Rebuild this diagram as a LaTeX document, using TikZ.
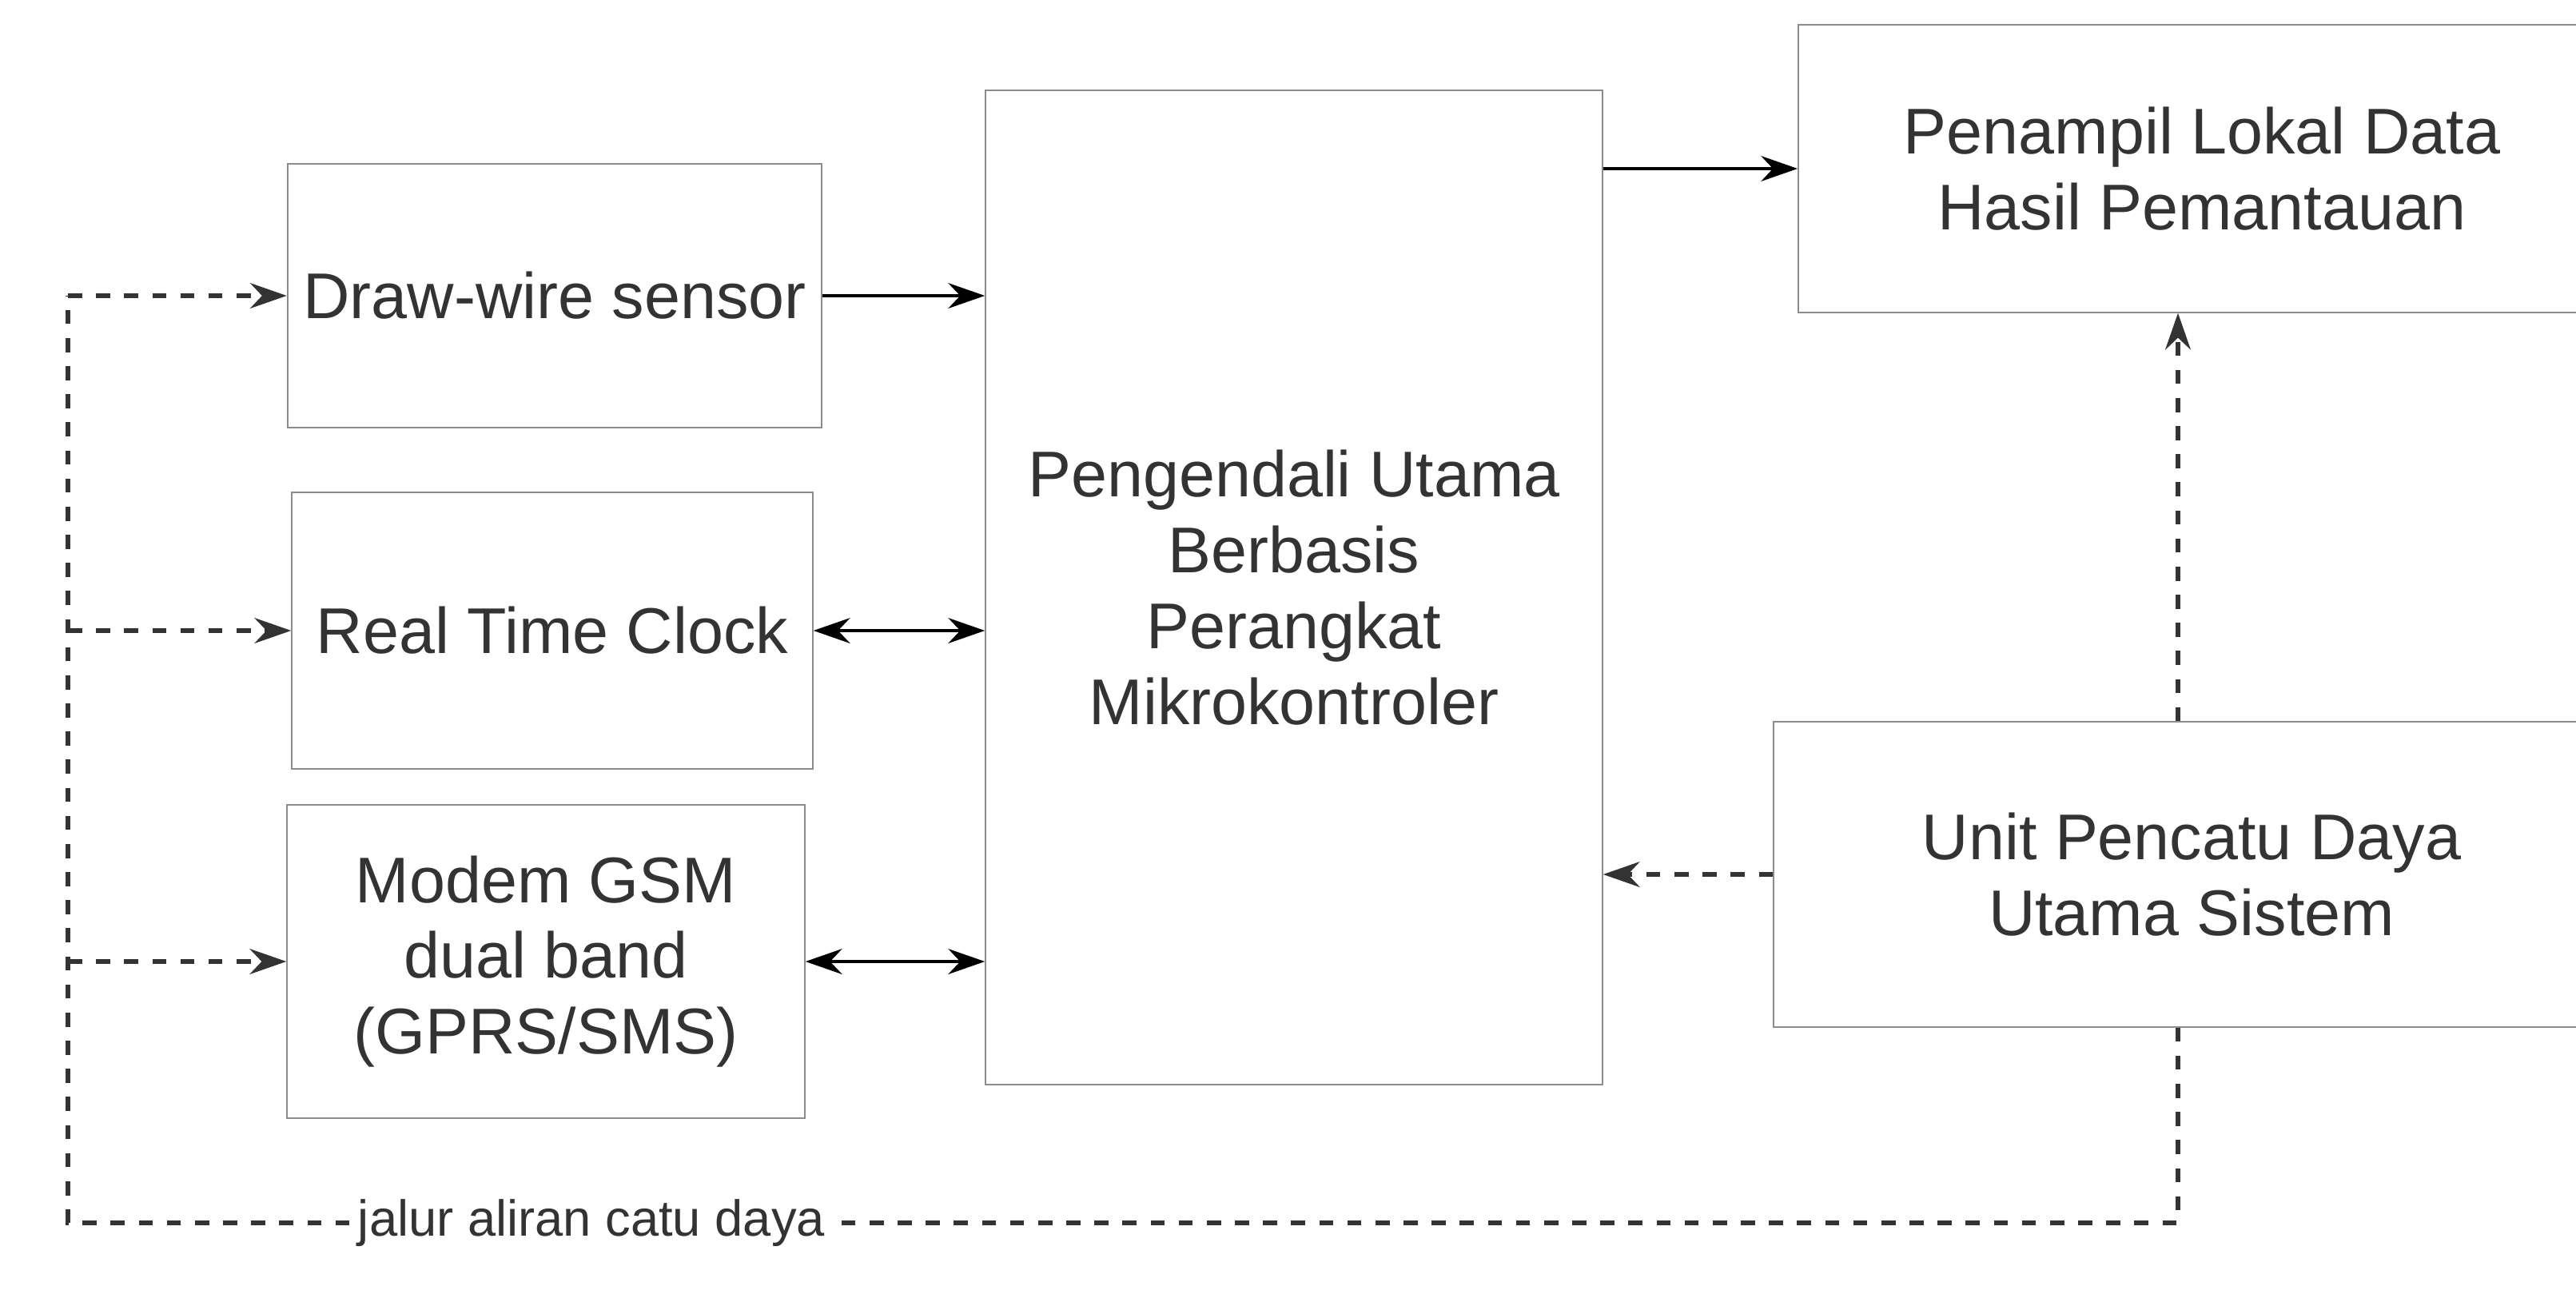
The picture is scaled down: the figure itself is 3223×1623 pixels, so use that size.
\documentclass[tikz,border=0pt]{standalone}
\usepackage{fontspec}
\setmainfont{Liberation Sans}
\usetikzlibrary{arrows.meta}
\begin{document}
\begin{tikzpicture}[x=0.01cm,y=-0.01cm,
  box/.style={draw=black!45, line width=0.6pt, inner sep=0pt, align=center,
    font=\fontsize{23}{27}\selectfont, text=black!80},
  conn/.style={draw=black, line width=1.3pt},
  pwr/.style={draw=black!80, line width=1.6pt, dash pattern=on 5pt off 5pt},
  tip/.style={-{Stealth[length=13pt,width=9pt]}},
  dtip/.style={{Stealth[length=13pt,width=9pt]}-{Stealth[length=13pt,width=9pt]}},
  lbl/.style={fill=white, inner sep=3pt, font=\fontsize{18}{20}\selectfont, text=black!80}]
\useasboundingbox (0,0) rectangle (3223,1623);
\clip (0,0) rectangle (3223,1623);
\fill[white] (0,0) rectangle (3223,1623);

% blocks
\node[box, minimum width=6.68cm, minimum height=3.3cm] (dw) at (694,370) {Draw-wire sensor};
\node[box, minimum width=6.51cm, minimum height=3.45cm] (rtc) at (691,789) {Real Time Clock};
\node[box, minimum width=6.47cm, minimum height=3.91cm] (gsm) at (683,1203) {Modem GSM\\dual band\\(GPRS/SMS)};
\node[box, minimum width=7.71cm, minimum height=12.44cm] (cu) at (1619,735) {Pengendali Utama\\Berbasis\\Perangkat\\Mikrokontroler};
\node[box, minimum width=10.09cm, minimum height=3.59cm] (pl) at (2755,211) {Penampil Lokal Data\\Hasil Pemantauan};
\node[box, minimum width=10.45cm, minimum height=3.81cm] (pc) at (2742,1094) {Unit Pencatu Daya\\Utama Sistem};

% data connectors
\draw[conn,tip] (dw.east) -- (dw.east -| cu.west);
\draw[conn,dtip] (rtc.east) -- (rtc.east -| cu.west);
\draw[conn,dtip] (gsm.east) -- (gsm.east -| cu.west);
\draw[conn,tip] (cu.east |- pl.west) -- (pl.west);

% power connectors
\coordinate (px) at (2725,0);
\coordinate (br) at (2725,1530);
\coordinate (bl) at (85,1530);
\draw[pwr,tip] (pc.west) -- (pc.west -| cu.east);
\draw[pwr,tip] (pc.north -| px) -- (pl.south -| px);
\draw[pwr] (pc.south -| px) -- (br) -- (bl) -- (bl |- dw.west);
\draw[pwr,tip] (bl |- dw.west) -- (dw.west);
\draw[pwr,tip] (bl |- rtc.west) -- (rtc.west);
\draw[pwr,tip] (bl |- gsm.west) -- (gsm.west);
\node[lbl] (lab) at (740,1530) {jalur aliran catu daya};
\end{tikzpicture}
\end{document}
